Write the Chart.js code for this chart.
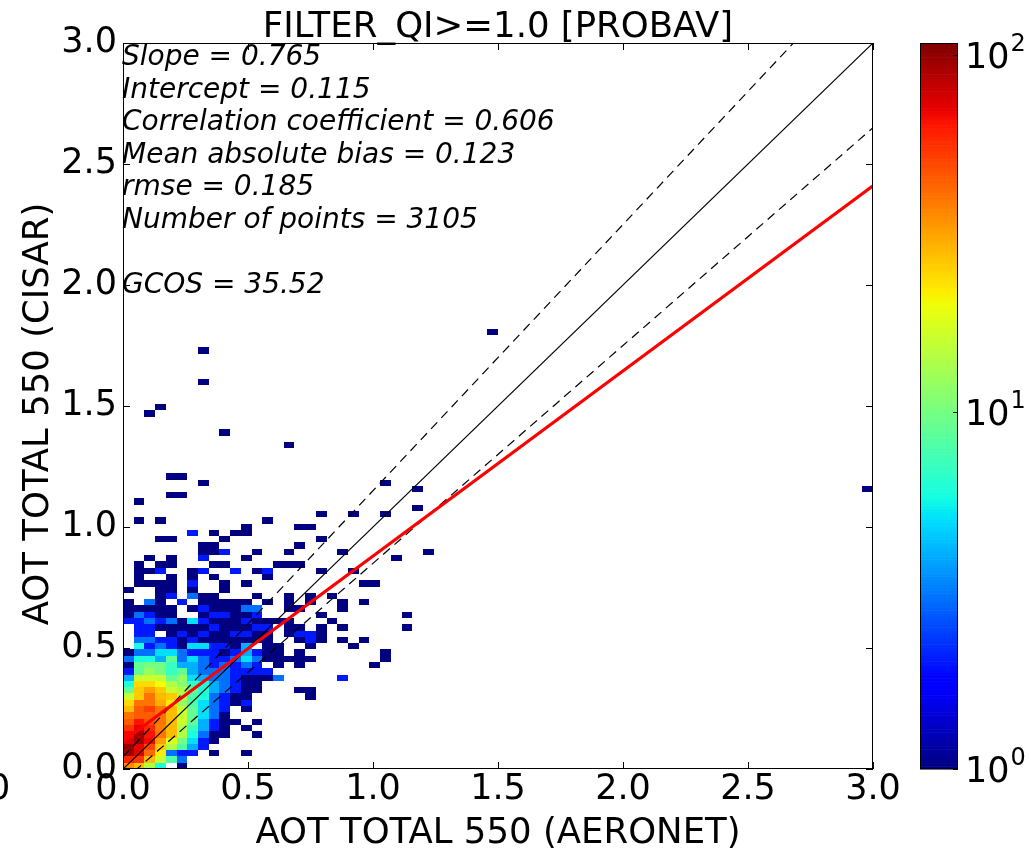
<!DOCTYPE html>
<html><head><meta charset="utf-8">
<script src="https://cdn.jsdelivr.net/npm/chart.js@4.4.1/dist/chart.umd.min.js"></script>
<style>html,body{margin:0;padding:0;background:#fff;}canvas{display:block;}</style>
</head><body>
<canvas id="c" width="1031" height="849"></canvas>
<script>
// ---------------- data ----------------
const titleText = 'FILTER_QI>=1.0 [PROBAV]';
const xTitle = 'AOT TOTAL 550 (AERONET)';
const yTitle = 'AOT TOTAL 550 (CISAR)';
const statsLines = ['Slope = 0.765', 'Intercept = 0.115', 'Correlation coefficient = 0.606',
  'Mean absolute bias = 0.123', 'rmse = 0.185', 'Number of points = 3105', '', 'GCOS = 35.52'];
const axisTicks = [0, 0.5, 1.0, 1.5, 2.0, 2.5, 3.0];
const cbarTicks = [1, 10, 100];
const cbarMin = 1, cbarMax = 108;
const fitSlope = 0.765, fitIntercept = 0.115;
const gcosAbs = 0.05, gcosRel = 0.10;           // envelope: y = x +/- (0.05 + 0.10 x)
const xOrigin = 0.0, binWidth = 3.0 / 70;        // histogram bins (data units)
const yOrigin = 0.0, binHeight = 0.026;
// counts of the dense part: denseRows[j][i] = number of points in bin (column i, row j)
const denseRows = [
  [36,28,14,6,0,1],
  [60,55,28,16,8,3],
  [95,72,42,22,3,2,2,0,1,0,0,1],
  [100,70,50,26,14,8,4,2],
  [75,95,68,32,18,10,5,2,1],
  [68,92,65,40,28,14,6,3,1,1,0,0,1],
  [55,72,58,38,28,14,7,4,2,1,0,1],
  [45,65,48,40,28,16,9,4,2,1,1,0,1],
  [40,45,45,40,28,16,9,5,3,1],
  [28,45,52,40,28,16,9,5,3,2,0,1],
  [24,40,40,30,22,12,8,5,3,2,1,2],
  [16,26,40,28,26,14,8,6,3,2,1,1,0,0,0,0,0,1],
  [9,26,32,26,16,14,9,6,4,3,2,1,1,0,0,0,1,1],
  [6,24,24,20,14,11,7,6,4,3,2,1,1],
  [4,16,16,16,9,12,5,4,3,3,2,1,1,1,3,0,0,0,0,0,2],
  [2,9,12,10,7,9,4,3,3,3,2,2,2,2],
  [1,9,10,10,7,4,4,3,2,3,2,3,2,0,1,0,1],
  [3,6,6,4,9,3,5,3,2,2,3,5,3,1,1,1,1,1],
  [1,3,3,5,5,3,2,2,2,1,2,4,2,1,1,0,1],
  [0,6,2,3,2,1,5,5,2,2,1,4,0,1,1,0,0,1,0,0,0,1],
  [0,3,3,2,2,1,2,1,1,1,1,1,1,1,0,0,1,2,1,0,1,0,1],
  [0,2,2,0,1,2,1,2,1,1,2,2,1,1,0,1,2,2,1],
  [0,2,2,1,1,1,1,1,2,1,1,1,2,2,0,1,1,0,1,0,1],
  [2,2,3,2,3,1,5,2,1,1,1,2,1,1,1,1,0,0,0,1],
  [1,3,2,1,1,0,0,1,2,2,1,1,2,0,0,0,0,0,1],
  [1,1,1,1,1,0,1,2,1,1,1,3,3,0,0,1,1,0,0,0,1],
  [1,0,3,1,0,2,0,1,1,1,1,1,0,1,0,1,0,1,0,0,1,0,1],
  [0,0,0,1,2,0,3,1,1,0,0,0,1,0,0,1,0,1,0,1],
  [1,0,0,1,1,0,1,0,0,1],
  [0,1,1,1,1,0,2,0,0,1,0,1,0,0,0,0,0,0,0,0,0,0,1,1],
  [0,1,0,0,1,0,1,0,1,0,0,0,0,1],
  [0,1,1,2,0,0,1,2,0,0,2,0,1,2,0,0,0,0,1,0,0,1],
  [0,1,0,1,1,0,0,0,1,1,0,0,0,0,1,1,1],
  [0,0,1,0,1,0,0,2,0,0,0,1,0,0,0,0,0,0,0,0,0,0,0,0,0,1]
];
// isolated bins: [column i, row j, count]
const sparseBins = [
  [23,16,1],[24,17,1],[24,18,1],[26,22,1],[26,24,1],
  [7,34,1],[8,34,1],[9,34,2],[12,34,1],[15,34,1],[20,34,1],[28,34,1],
  [7,35,1],[8,35,1],[16,35,1],
  [3,36,1],[4,36,1],[9,36,1],[18,36,1],
  [6,37,2],[8,37,1],[10,37,1],[11,37,1],
  [11,38,1],[16,38,1],[17,38,1],
  [1,39,1],[3,39,1],[13,39,1],
  [18,40,1],[21,40,1],[24,40,1],
  [27,41,1],[1,42,1],[4,43,1],[5,43,1],
  [27,44,1],[69,44,1],[7,45,1],[24,45,1],[4,46,1],[5,46,1],
  [15,51,1],[9,53,1],[2,56,1],[3,57,1],[7,61,1],[7,66,1],[34,69,1]
];

// ---------------- helpers ----------------
function jet(f) {
  f = Math.max(0, Math.min(1, f));
  const seg = pts => {
    for (let k = 1; k < pts.length; k++) {
      if (f <= pts[k][0]) {
        const [x0, y0] = pts[k - 1], [x1, y1] = pts[k];
        return y0 + (y1 - y0) * (f - x0) / (x1 - x0);
      }
    }
    return pts[pts.length - 1][1];
  };
  const r = seg([[0,0],[0.35,0],[0.66,1],[0.89,1],[1,0.5]]);
  const g = seg([[0,0],[0.125,0],[0.375,1],[0.64,1],[0.91,0],[1,0]]);
  const b = seg([[0,0.5],[0.11,1],[0.34,1],[0.65,0],[1,0]]);
  return 'rgb(' + Math.round(r*255) + ',' + Math.round(g*255) + ',' + Math.round(b*255) + ')';
}
const FONT = "'DejaVu Sans', 'Liberation Sans', sans-serif";

const heatmapPlugin = {
  id: 'heatmap',
  beforeDatasetsDraw(chart) {
    const {ctx, chartArea: a} = chart;
    const xs = chart.scales.x, ys = chart.scales.y;
    const norm = Math.log(cbarMax / cbarMin);
    ctx.save();
    ctx.beginPath();
    ctx.rect(a.left, a.top, a.right - a.left, a.bottom - a.top);
    ctx.clip();
    const drawBin = (i, j, c) => {
      if (!c) return;
      const x0 = Math.round(xs.getPixelForValue(xOrigin + i * binWidth));
      const x1 = Math.round(xs.getPixelForValue(xOrigin + (i + 1) * binWidth));
      const y0 = Math.round(ys.getPixelForValue(yOrigin + j * binHeight));
      const y1 = Math.round(ys.getPixelForValue(yOrigin + (j + 1) * binHeight));
      ctx.fillStyle = jet(Math.log(c / cbarMin) / norm);
      ctx.fillRect(x0, y1, x1 - x0, y0 - y1);
    };
    denseRows.forEach((row, j) => row.forEach((c, i) => drawBin(i, j, c)));
    sparseBins.forEach(([i, j, c]) => drawBin(i, j, c));
    ctx.restore();
  }
};

const decorPlugin = {
  id: 'decor',
  afterDraw(chart) {
    const {ctx, chartArea: a} = chart;
    const xs = chart.scales.x, ys = chart.scales.y, cs = chart.scales.cbar;
    ctx.save();
    // frame
    ctx.strokeStyle = '#000';
    ctx.lineWidth = 1;
    ctx.strokeRect(Math.round(a.left) + 0.5, Math.round(a.top) + 0.5,
      Math.round(a.right - a.left) - 1, Math.round(a.bottom - a.top) - 1);
    // inward ticks on all four sides
    const tl = 7;
    ctx.beginPath();
    xs.ticks.forEach(t => {
      const px = Math.round(xs.getPixelForValue(t.value)) + 0.5;
      ctx.moveTo(px, a.bottom); ctx.lineTo(px, a.bottom - tl);
      ctx.moveTo(px, a.top); ctx.lineTo(px, a.top + tl);
    });
    ys.ticks.forEach(t => {
      const py = Math.round(ys.getPixelForValue(t.value)) + 0.5;
      ctx.moveTo(a.left, py); ctx.lineTo(a.left + tl, py);
      ctx.moveTo(a.right, py); ctx.lineTo(a.right - tl, py);
    });
    ctx.stroke();

    // texts
    ctx.fillStyle = '#000';
    ctx.font = '35.5px ' + FONT;
    ctx.textAlign = 'center';
    ctx.textBaseline = 'alphabetic';
    ctx.fillText(titleText, (a.left + a.right) / 2, 37);
    ctx.fillText(xTitle, (a.left + a.right) / 2, 843);
    ctx.save();
    ctx.translate(48, 414);
    ctx.rotate(-Math.PI / 2);
    ctx.fillText(yTitle, 0, 0);
    ctx.restore();
    // stray clipped label at far left
    ctx.textAlign = 'left';
    ctx.font = '35px ' + FONT;
    ctx.fillText('0', -12, 799);

    // statistics block
    ctx.font = 'italic 28px ' + FONT;
    ctx.textAlign = 'left';
    statsLines.forEach((s, k) => { if (s) ctx.fillText(s, a.left - 1, 65 + 32.5 * k); });

    // colorbar
    const cbL = 920, cbR = 958;
    const yTop = cs.getPixelForValue(cbarMax), yBot = cs.getPixelForValue(cbarMin);
    const N = 256;
    for (let k = 0; k < N; k++) {
      const v0 = cbarMin * Math.pow(cbarMax / cbarMin, k / N);
      const v1 = cbarMin * Math.pow(cbarMax / cbarMin, (k + 1) / N);
      const p0 = cs.getPixelForValue(v0), p1 = cs.getPixelForValue(v1);
      ctx.fillStyle = jet((k + 0.5) / N);
      ctx.fillRect(cbL, p1, cbR - cbL, p0 - p1 + 0.6);
    }
    ctx.strokeStyle = '#000';
    ctx.lineWidth = 1;
    ctx.strokeRect(cbL + 0.5, Math.round(yTop) + 0.5, cbR - cbL - 1, Math.round(yBot - yTop) - 1);
    ctx.beginPath();
    cbarTicks.forEach(v => {
      const py = Math.round(cs.getPixelForValue(v)) + 0.5;
      ctx.moveTo(cbR, py); ctx.lineTo(cbR - 5, py);
    });
    ctx.stroke();
    ctx.fillStyle = '#000';
    cbarTicks.forEach(v => {
      const py = cs.getPixelForValue(v);
      const e = Math.round(Math.log10(v));
      ctx.font = '35px ' + FONT;
      ctx.textAlign = 'left';
      ctx.fillText('10', 965, py + 13);
      const w = ctx.measureText('10').width;
      ctx.font = '24px ' + FONT;
      ctx.fillText(String(e), 965 + w + 1, py - 4);
    });
    ctx.restore();
  }
};

const lineOf = (m, b) => [{x: 0, y: b}, {x: 3, y: b + 3 * m}];

new Chart(document.getElementById('c').getContext('2d'), {
  type: 'scatter',
  data: {
    datasets: [
      {type: 'line', data: lineOf(fitSlope, fitIntercept), borderColor: '#ff0000', borderWidth: 3,
       pointRadius: 0, fill: false, tension: 0},
      {type: 'line', data: lineOf(1, 0), borderColor: '#000', borderWidth: 1.2,
       pointRadius: 0, fill: false, tension: 0},
      {type: 'line', data: lineOf(1 + gcosRel, gcosAbs), borderColor: '#000', borderWidth: 1.2,
       borderDash: [9, 6], pointRadius: 0, fill: false, tension: 0},
      {type: 'line', data: lineOf(1 - gcosRel, -gcosAbs), borderColor: '#000', borderWidth: 1.2,
       borderDash: [9, 6], pointRadius: 0, fill: false, tension: 0}
    ]
  },
  options: {
    responsive: false,
    animation: false,
    devicePixelRatio: 1,
    layout: {padding: {left: 0, top: 43, right: 0, bottom: 0}},
    plugins: {legend: {display: false}, tooltip: {enabled: false}, title: {display: false}},
    scales: {
      x: {
        type: 'linear', min: 0, max: 3, position: 'bottom',
        afterBuildTicks: s => { s.ticks = axisTicks.map(v => ({value: v})); },
        afterFit: s => { s.height = 80; },
        grid: {display: false, drawTicks: false},
        border: {display: false},
        ticks: {font: {family: FONT, size: 35}, color: '#000', padding: 0, maxRotation: 0,
                autoSkip: false, callback: v => Number(v).toFixed(1)}
      },
      y: {
        type: 'linear', min: 0, max: 3, position: 'left',
        afterBuildTicks: s => { s.ticks = axisTicks.map(v => ({value: v})); },
        afterFit: s => { s.width = 123; },
        grid: {display: false, drawTicks: false},
        border: {display: false},
        ticks: {font: {family: FONT, size: 35}, color: '#000', padding: 6,
                autoSkip: false, callback: v => Number(v).toFixed(1)}
      },
      cbar: {
        type: 'logarithmic', axis: 'y', position: 'right', min: cbarMin, max: cbarMax,
        afterFit: s => { s.width = 158; },
        grid: {display: false, drawTicks: false},
        border: {display: false},
        ticks: {display: false}
      }
    }
  },
  plugins: [heatmapPlugin, decorPlugin]
});
</script>
</body></html>
